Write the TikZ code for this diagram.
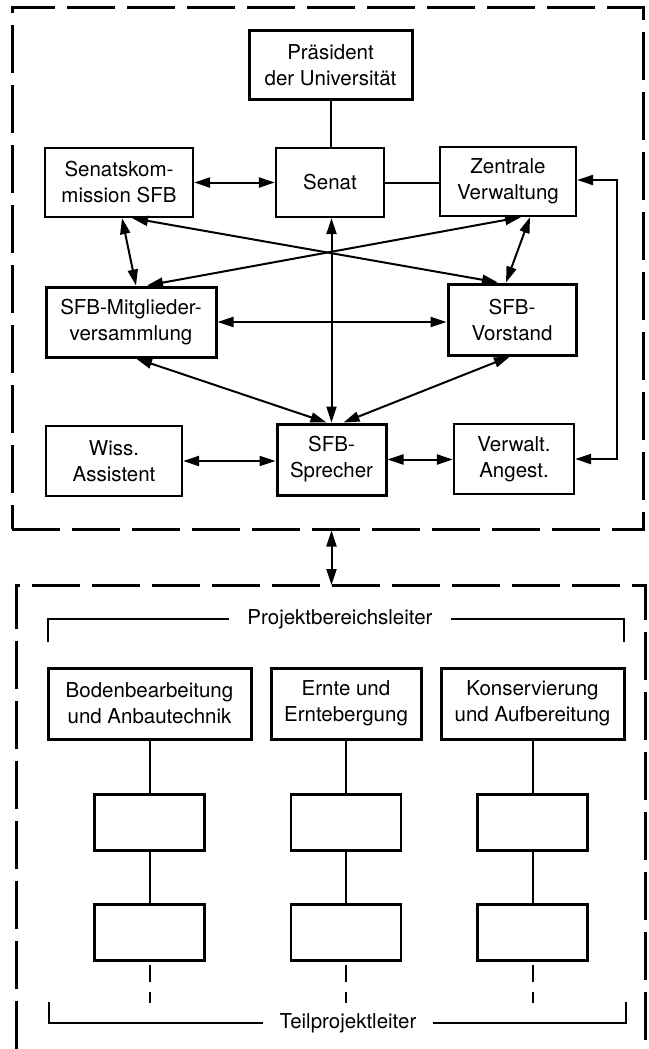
\documentclass[tikz,border=0pt]{standalone}
\usepackage{fontspec}
\setmainfont{TeX Gyre Heros}
\usetikzlibrary{arrows.meta, positioning, calc}

\begin{document}
\begin{tikzpicture}[x=1pt, y=-1pt, font=\fontsize{20.5}{26}\selectfont,
          kb/.style={draw, line width=2.2pt, align=center, inner sep=1pt},
          dk/.style={kb, line width=3pt},
          lb/.style={draw, line width=2.2pt, minimum width=110pt, minimum height=56pt},
          vb/.style={line width=2pt},
          dp/.style={line width=2pt, {Triangle[length=16pt,width=10pt]}-{Triangle[length=16pt,width=10pt]}},
          rand/.style={line width=3pt, dash pattern=on 48pt off 12pt}]
          \useasboundingbox (0,0) rectangle (648,1049);
          % oberer Kasten
          \node[draw, rand, minimum width=631pt, minimum height=521pt] (oben) at (327.5,268.5) {};
          \node[dk, minimum width=163pt, minimum height=68pt] (praes) at (330.5,65) {Präsident\\der Universität};
          \node[kb, minimum width=148pt, minimum height=69pt] (senkom) at (119,182.5) {Senatskom-\\mission SFB};
          \node[kb, minimum width=108pt, minimum height=69pt] (senat) at (330,182.5) {Senat};
          \node[kb, minimum width=136pt, minimum height=69pt] (zentral) at (508,181.5) {Zentrale\\Verwaltung};
          \node[dk, minimum width=170pt, minimum height=70pt] (mitgl) at (131,322) {SFB-Mitglieder-\\versammlung};
          \node[dk, minimum width=128pt, minimum height=71pt] (vorst) at (512,319.5) {SFB-\\Vorstand};
          \node[kb, minimum width=136pt, minimum height=70pt] (wiss) at (114,461) {Wiss.\\Assistent};
          \node[dk, minimum width=109pt, minimum height=71pt] (sprech) at (331.5,459.5) {SFB-\\Sprecher};
          \node[kb, minimum width=120pt, minimum height=70pt] (verw) at (514,459) {Verwalt.\\Angest.};
          \draw[vb] (praes.south) -- (praes.south |- senat.north);
          \draw[dp] (senkom.east) -- (senkom.east -| senat.west);
          \draw[vb] (senat.east) -- (senat.east -| zentral.west);
          \coordinate (re) at (617,0);
          \draw[dp] ([yshift=1.5pt]zentral.east) -- ([yshift=1.5pt]zentral.east -| re) -- (verw.east -| re) -- (verw.east);
          \draw[dp] ([xshift=3pt]senkom.south) -- ([xshift=5pt]mitgl.north);
          \draw[dp] ([xshift=13pt]senkom.south) -- ([xshift=-14pt]vorst.north);
          \draw[dp] ([xshift=13pt]zentral.south) -- ([xshift=16pt]mitgl.north);
          \draw[dp] ([xshift=22pt]zentral.south) -- ([xshift=-6pt]vorst.north);
          \draw[dp] (sprech.north |- senat.south) -- (sprech.north);
          \draw[dp] (mitgl.east) -- (mitgl.east -| vorst.west);
          \draw[dp] ([xshift=5pt]mitgl.south) -- ([xshift=-5pt]sprech.north);
          \draw[dp] ([xshift=-2pt]vorst.south) -- ([xshift=12pt]sprech.north);
          \draw[dp] (wiss.east) -- (wiss.east -| sprech.west);
          \draw[dp] (sprech.east) -- (sprech.east -| verw.west);
          % unterer Kasten
          \coordinate (unten) at (331.5,585);
          \coordinate (ul) at (16,1049);
          \coordinate (ur) at (645,1049);
          \draw[rand] (ul) |- (unten) -| (ur);
          \draw[dp] (sprech |- oben.south) -- (unten);
          \node[inner xsep=18pt, inner ysep=0pt] (pbl) at (340,619) {Projektbereichsleiter};
          \coordinate (pbl1) at (48,642);
          \coordinate (pbl2) at (624,642);
          \draw[vb] (pbl1) |- (pbl.west);
          \draw[vb] (pbl.east) -| (pbl2);
          \foreach \n/\x/\w/\t in {a/149.5/203/{Bodenbearbeitung\\und Anbautechnik},
                                 b/346/150/{Ernte und\\Erntebergung},
                                 c/532.5/183/{Konservierung\\und Aufbereitung}} {
            \node[dk, minimum width=\w pt, minimum height=71pt] (pb\n) at (\x,703.5) {\t};
            \node[lb] (tp\n1) at (\x,822.5) {};
            \node[lb] (tp\n2) at (\x,932.5) {};
            \draw[vb] (pb\n) -- (tp\n1);
            \draw[vb] (tp\n1) -- (tp\n2);
            \coordinate (st\n) at (\x,1003);
            \draw[vb, dash pattern=on 17pt off 10pt] ([yshift=-3pt]tp\n2.south) -- (st\n);
          }
          \node[inner xsep=16pt, inner ysep=0pt] (tpl) at (348,1023) {Teilprojektleiter};
          \coordinate (tpl1) at (49,1002);
          \coordinate (tpl2) at (626,1002);
          \draw[vb] (tpl1) |- (tpl.west);
          \draw[vb] (tpl.east) -| (tpl2);
        \end{tikzpicture}
\end{document}
